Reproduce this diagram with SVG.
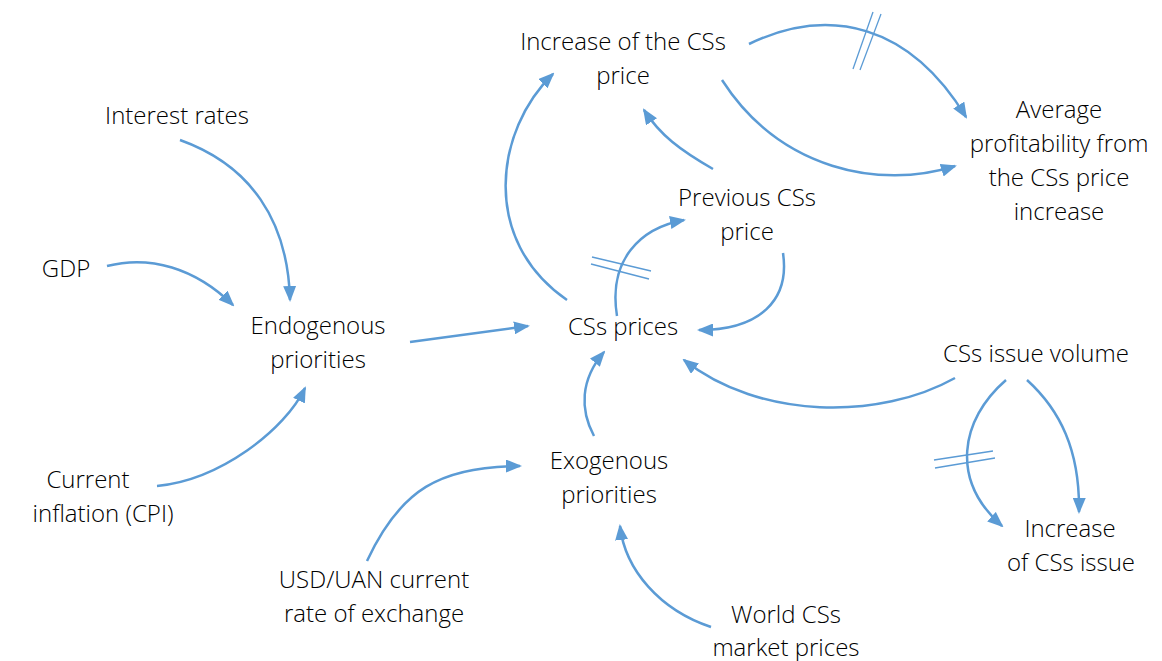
<svg xmlns="http://www.w3.org/2000/svg" width="1162" height="661" viewBox="0 0 1162 661">
<defs>
<style>
text{font-family:"Open Sans","Liberation Sans",sans-serif;font-weight:300;font-size:24px;fill:#000;text-anchor:middle}
.c{fill:none;stroke:#5B9BD5;stroke-width:2.5;marker-end:url(#ah)}
.d{fill:none;stroke:#5B9BD5;stroke-width:1.3}
</style>
<marker id="ah" viewBox="0 0 16 13" refX="14" refY="6.5" markerWidth="16" markerHeight="13" markerUnits="userSpaceOnUse" orient="auto">
<path d="M0,0 L16,6.5 L0,13 z" fill="#5B9BD5"/>
</marker>
</defs>
<rect width="1162" height="661" fill="#fff"/>
<g id="connectors">
<path class="c" d="M180,140 C250,165 288,220 290,300"/>
<path class="c" d="M107,266 C150,255 195,268 233,305"/>
<path class="c" d="M157,486 C220,480 285,430 305,388"/>
<path class="c" d="M410,342 L528,326"/>
<path class="c" d="M567,300 C480,240 495,130 553,74"/>
<path class="c" d="M713,169 C680,150 660,135 644,110"/>
<path class="c" d="M749,44 C830,5 910,25 966,117"/>
<path class="c" d="M722,80 C780,170 880,190 955,166"/>
<path class="c" d="M617,316 C608,260 640,228 684,220"/>
<path class="c" d="M783,253 C790,300 760,330 699,330"/>
<path class="c" d="M955,378 C880,420 760,420 684,360"/>
<path class="c" d="M594,436 C580,410 580,380 604,352"/>
<path class="c" d="M367,561 C400,490 440,466 520,466"/>
<path class="c" d="M711,627 C660,610 625,570 620,526"/>
<path class="c" d="M1006,380 C960,420 950,480 1002,526"/>
<path class="c" d="M1027,380 C1060,410 1080,450 1079,512"/>
<line class="d" x1="853" y1="69" x2="873" y2="12"/>
<line class="d" x1="860" y1="70" x2="881" y2="14"/>
<line class="d" x1="592" y1="257" x2="651" y2="271"/>
<line class="d" x1="591" y1="264" x2="649" y2="279"/>
<line class="d" x1="934" y1="460" x2="993" y2="451"/>
<line class="d" x1="935" y1="468" x2="995" y2="458"/>
</g>
<g id="increase-price"><text x="623" y="50">Increase of the CSs</text><text x="623" y="84">price</text></g>
<g id="average-profitability"><text x="1059" y="118">Average</text><text x="1059" y="152">profitability from</text><text x="1059" y="186">the CSs price</text><text x="1059" y="220">increase</text></g>
<g id="interest-rates"><text x="177" y="124">Interest rates</text></g>
<g id="gdp"><text x="66" y="277">GDP</text></g>
<g id="endogenous"><text x="318" y="334">Endogenous</text><text x="318" y="368">priorities</text></g>
<g id="previous-price"><text x="747" y="206">Previous CSs</text><text x="747" y="240">price</text></g>
<g id="css-prices"><text x="623" y="335">CSs prices</text></g>
<g id="issue-volume"><text x="1036" y="362">CSs issue volume</text></g>
<g id="exogenous"><text x="609" y="469">Exogenous</text><text x="609" y="503">priorities</text></g>
<g id="inflation"><text x="88" y="488">Current</text><text x="103" y="522">inflation (CPI)</text></g>
<g id="usd-uan"><text x="374" y="588">USD/UAN current</text><text x="374" y="622">rate of exchange</text></g>
<g id="world-prices"><text x="786" y="623">World CSs</text><text x="786" y="656">market prices</text></g>
<g id="increase-issue"><text x="1070" y="537">Increase</text><text x="1071" y="571">of CSs issue</text></g>
</svg>
